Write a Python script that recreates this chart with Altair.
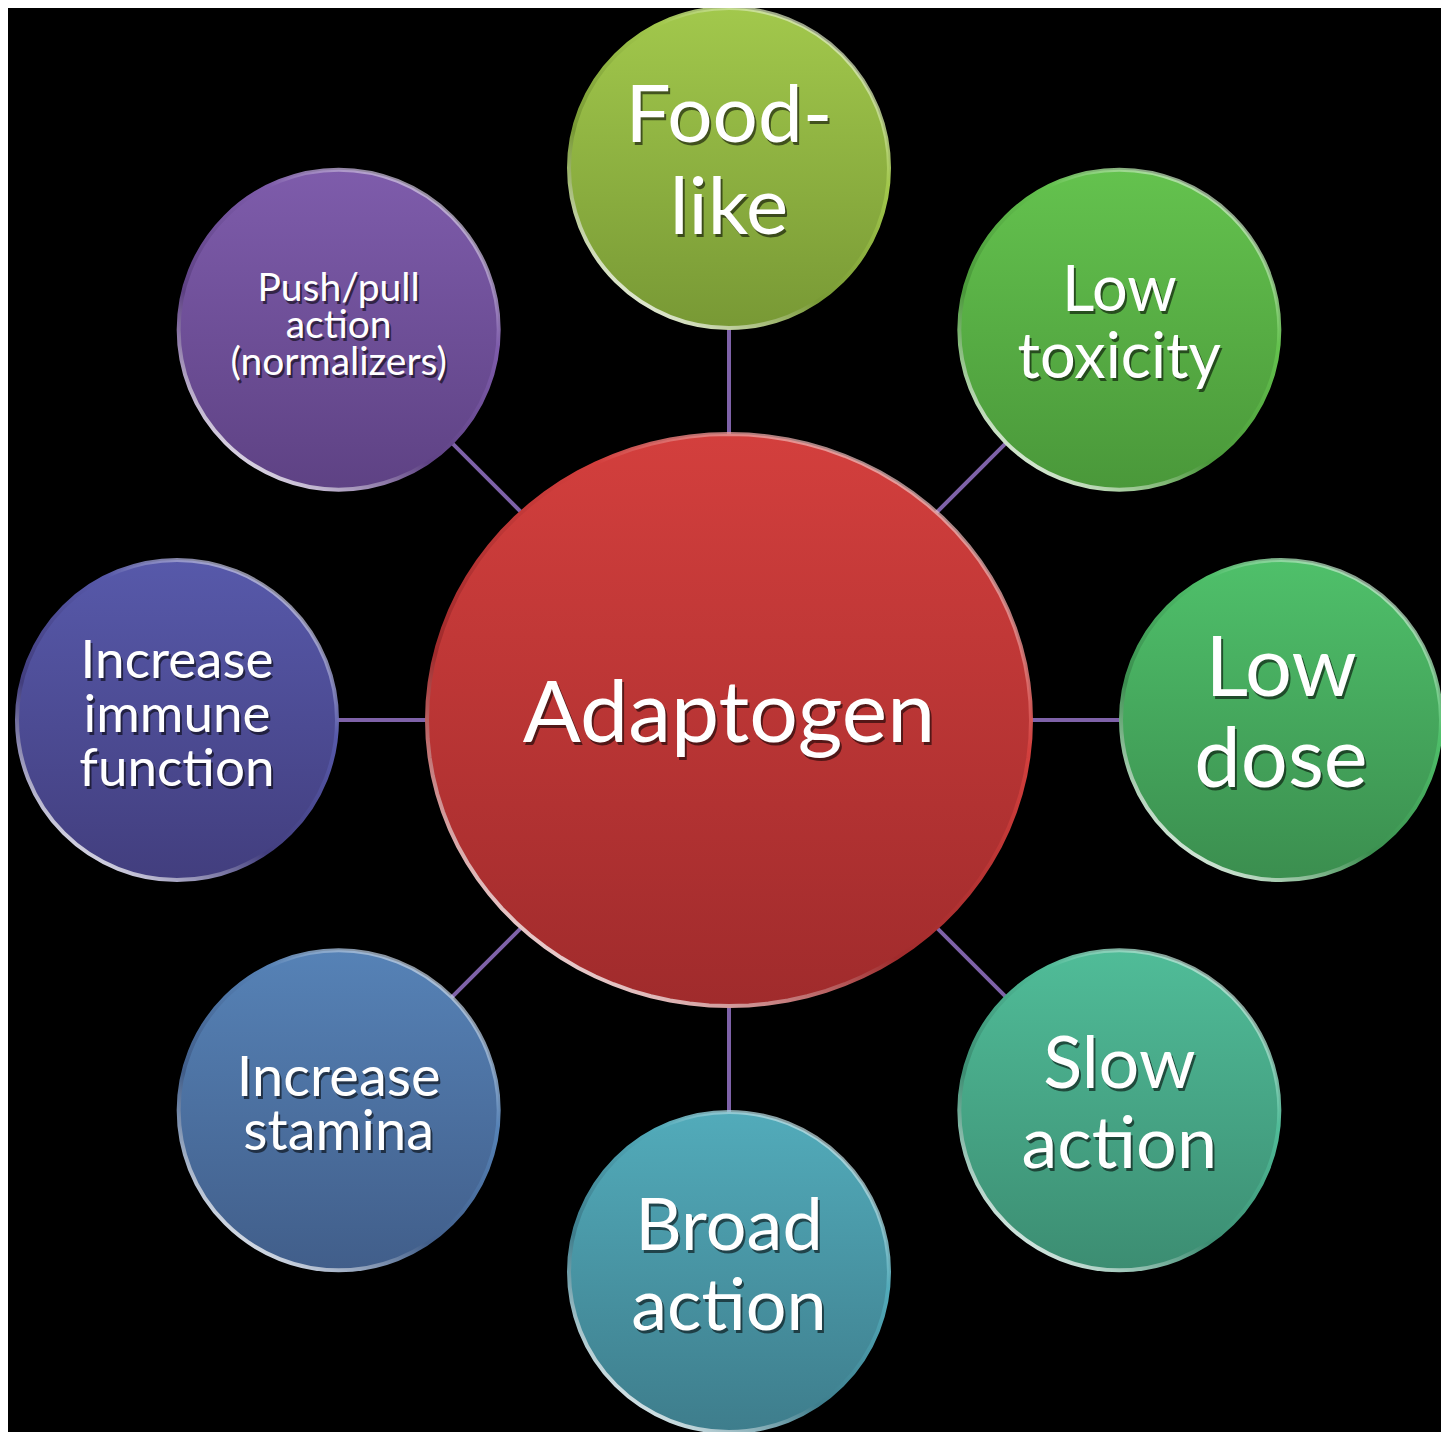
import math
import altair as alt
import pandas as pd

# ---- content -------------------------------------------------------------
center_label = "Adaptogen"
center_colors = ["#d33f3d", "#a02b2c"]

labels = [
    "Food-\nlike",
    "Low\ntoxicity",
    "Low\ndose",
    "Slow\naction",
    "Broad\naction",
    "Increase\nstamina",
    "Increase\nimmune\nfunction",
    "Push/pull\naction\n(normalizers)",
]
top_colors = ["#a2c84c", "#64c24e", "#4fc06a", "#50bc98", "#52abba", "#5682b6", "#5759aa", "#7e5cab"]
bottom_colors = ["#789935", "#4a983a", "#3b8e4f", "#3c8d72", "#3e7d8c", "#415e8a", "#423e7e", "#5e4284"]
font_sizes = [80, 63, 83, 72, 72, 56, 53, 39]
line_heights = [92, 67, 91, 80, 80, 54, 54, 37]

# ---- layout ----------------------------------------------------------------
CX, CY = 729, 720
RING = 552
NODE_D = 320
CENTER_W, CENTER_H = 604, 572
FONT = "Lato"

angles = [i * 45 for i in range(len(labels))]
nodes = pd.DataFrame({
    "label": labels,
    "x": [CX + RING * math.sin(math.radians(a)) for a in angles],
    "y": [CY - RING * math.cos(math.radians(a)) for a in angles],
})
nodes["cx"] = CX
nodes["cy"] = CY
center_df = pd.DataFrame({"label": [center_label], "x": [CX], "y": [CY]})

X = alt.X("x:Q", scale=alt.Scale(domain=[8, 1441], nice=False, zero=False), axis=None)
Y = alt.Y("y:Q", scale=alt.Scale(domain=[8, 1432], nice=False, zero=False, reverse=True), axis=None)


def grad(top, bottom):
    return alt.LinearGradient(
        gradient="linear", x1=0, y1=0, x2=0, y2=1,
        stops=[alt.GradientStop(color=top, offset=0), alt.GradientStop(color=bottom, offset=1)],
    )


def rim(top, bottom):
    return alt.LinearGradient(
        gradient="linear", x1=0.85, y1=0, x2=0.15, y2=1,
        stops=[
            alt.GradientStop(color="rgba(255,255,255,0.55)", offset=0),
            alt.GradientStop(color=top, offset=0.3),
            alt.GradientStop(color=bottom, offset=0.65),
            alt.GradientStop(color="rgba(255,255,255,1)", offset=1),
        ],
    )


# ellipse symbol for the centre node (unit coordinates, scaled by Vega)
ratio = CENTER_H / CENTER_W
pts = []
for k in range(96):
    t = 2 * math.pi * k / 96
    pts.append(f"{math.cos(t):.4f} {ratio * math.sin(t):.4f}")
ellipse_path = "M " + " L ".join(pts) + " Z"

layers = []

# connectors
layers.append(
    alt.Chart(nodes).mark_rule(color="#7e62a8", strokeWidth=4).encode(
        x=X, y=Y, x2="cx:Q", y2="cy:Q"
    )
)

# centre node
layers.append(
    alt.Chart(center_df).mark_point(
        shape=ellipse_path, filled=True, fill=grad(*center_colors), opacity=1,
        fillOpacity=1, stroke=rim(*center_colors), strokeWidth=4, strokeOpacity=1,
        size=CENTER_W ** 2,
    ).encode(x=X, y=Y)
)

# outer nodes
for i, lab in enumerate(labels):
    sub = nodes[nodes["label"] == lab]
    layers.append(
        alt.Chart(sub).mark_point(
            shape="circle", filled=True, fill=grad(top_colors[i], bottom_colors[i]),
            opacity=1, fillOpacity=1, stroke=rim(top_colors[i], bottom_colors[i]),
            strokeWidth=4, strokeOpacity=1, size=NODE_D ** 2,
        ).encode(x=X, y=Y)
    )


def text_layers(df, size, lh, n_lines):
    off = -(n_lines - 1) * lh / 2 - 4
    shadow = alt.Chart(df).mark_text(
        font=FONT, fontSize=size, lineHeight=lh, lineBreak="\n", align="center",
        baseline="middle", color="#000000", opacity=0.55, dx=2, dy=off + 3,
    ).encode(x=X, y=Y, text="label:N")
    main = alt.Chart(df).mark_text(
        font=FONT, fontSize=size, lineHeight=lh, lineBreak="\n", align="center",
        baseline="middle", color="#ffffff", dy=off,
    ).encode(x=X, y=Y, text="label:N")
    return [shadow, main]


layers += text_layers(center_df, 86, 100, 1)
for i, lab in enumerate(labels):
    layers += text_layers(nodes[nodes["label"] == lab], font_sizes[i], line_heights[i],
                          lab.count("\n") + 1)

chart = alt.layer(*layers).properties(
    width=1433, height=1424, padding=0, autosize="none", background="#000000"
).configure_view(stroke=None)

chart.save("out.html", embed_options={"renderer": "svg", "actions": False})
